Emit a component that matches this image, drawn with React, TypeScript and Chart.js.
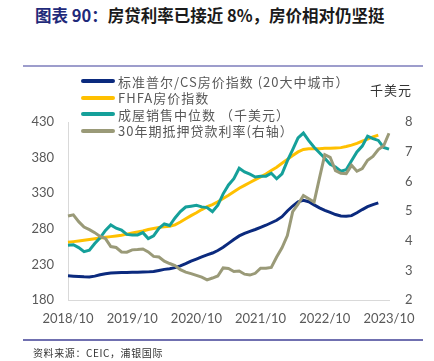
import React, { useEffect, useRef } from "react";
import { Chart, registerables } from "chart.js";

Chart.register(...registerables);

const labels: string[] = [];
for (let y = 2018; y <= 2023; y++) {
  for (let m = 1; m <= 12; m++) {
    if ((y === 2018 && m < 10) || (y === 2023 && m > 10)) continue;
    labels.push(`${y}/${m < 10 ? "0" + m : m}`);
  }
}

const tickLabels = ["2018/10", "2019/10", "2020/10", "2021/10", "2022/10", "2023/10"];

// S&P/Case-Shiller 20-city index (2018/10 - 2023/08)
const caseShiller = [
  213.9, 213.5, 213.0,
  212.5, 212.3, 213.5, 215.5, 217.0, 218.0, 218.3, 218.5, 218.6, 218.8, 219.0, 219.2,
  219.5, 220.0, 221.5, 223.0, 224.0, 225.5, 228.0, 231.0, 234.5, 237.5, 240.5, 243.5,
  246.0, 249.5, 254.0, 259.5, 265.0, 270.0, 273.5, 276.5, 279.0, 282.0, 285.0, 288.5,
  292.0, 297.0, 305.0, 312.0, 318.0, 320.0, 318.0, 313.5, 309.5, 306.0, 303.0, 300.0,
  298.0, 297.5, 298.5, 302.5, 307.0, 311.0, 314.0, 316.5,
];

// FHFA house price index (2018/10 - 2023/08)
const fhfa = [
  261, 262, 263,
  264, 265, 266, 267, 268, 269, 270, 271, 272.5, 274, 275.5, 277,
  279, 280.5, 282, 283, 283.5, 285.5, 289.5, 294, 298.5, 302.5, 307, 311,
  314, 318, 322.5, 327, 332, 337, 341, 345, 349, 353, 357, 362,
  366.5, 372, 377.5, 383, 388, 391.5, 392.5, 392.5, 392.5, 393, 393, 393.5,
  394, 395.5, 397.5, 400, 403, 406, 409, 411.5,
];

// Median existing home sales price, thousand USD (2018/10 - 2023/10)
const medianPrice = [
  257.0, 257.6, 253.6,
  248.0, 250.0, 259.4, 267.3, 277.7, 285.5, 280.8, 278.2, 272.1, 271.2, 271.4, 274.6,
  266.3, 270.1, 280.7, 286.8, 284.6, 295.3, 304.1, 310.6, 311.8, 313.0, 310.8, 309.8,
  303.9, 313.0, 329.1, 341.6, 350.3, 365.0, 359.9, 356.7, 352.8, 353.9, 353.9, 358.0,
  350.3, 357.3, 375.3, 391.2, 407.6, 414.5, 403.8, 394.5, 386.8, 379.1, 370.7, 366.9,
  361.0, 363.0, 375.7, 388.0, 396.1, 410.2, 406.7, 404.1, 394.3, 391.8,
];

// 30-year mortgage rate, % (right axis) (2018/10 - 2023/10)
const mortgageRate = [
  4.83, 4.87, 4.64,
  4.46, 4.37, 4.27, 4.14, 4.07, 3.80, 3.77, 3.62, 3.61, 3.69, 3.70, 3.72,
  3.62, 3.47, 3.45, 3.31, 3.23, 3.16, 3.02, 2.94, 2.89, 2.83, 2.77, 2.68,
  2.74, 2.81, 3.08, 3.06, 2.96, 2.98, 2.87, 2.84, 2.90, 3.07, 3.07, 3.10,
  3.45, 3.76, 4.17, 4.98, 5.23, 5.52, 5.41, 5.30, 6.11, 6.90, 6.81, 6.36,
  6.27, 6.26, 6.54, 6.34, 6.43, 6.71, 6.84, 7.07, 7.20, 7.62,
];

const seriesNames = [
  "标准普尔/CS房价指数 (20大中城市）",
  "FHFA房价指数",
  "成屋销售中位数 （千美元）",
  "30年期抵押贷款利率(右轴）",
];
const seriesColors = ["#0b2a7e", "#ffc000", "#15a09a", "#9a9a78"];

const leftTicks = [180, 230, 280, 330, 380, 430];
const rightTicks = [2, 3, 4, 5, 6, 7, 8];

const FONT = "Lato, 'Noto Sans CJK SC', sans-serif";
const CJK = "'Noto Sans CJK SC', 'Noto Sans', sans-serif";

export default function App() {
  const ref = useRef<HTMLCanvasElement | null>(null);

  useEffect(() => {
    if (!ref.current) return;
    const ds = (data: number[], i: number, axis: string) => ({
      label: seriesNames[i],
      data,
      borderColor: seriesColors[i],
      backgroundColor: seriesColors[i],
      borderWidth: 3,
      pointRadius: 0,
      tension: 0,
      yAxisID: axis,
      order: i === 3 ? 0 : 4 - i,
    });
    const chart = new Chart(ref.current, {
      type: "line",
      data: {
        labels,
        datasets: [
          ds(caseShiller, 0, "y"),
          ds(fhfa, 1, "y"),
          ds(medianPrice, 2, "y"),
          ds(mortgageRate, 3, "y1"),
        ],
      },
      options: {
        animation: false,
        responsive: false,
        maintainAspectRatio: false,
        layout: { padding: { top: 122, left: 0, right: 0, bottom: 0 } },
        plugins: { legend: { display: false }, tooltip: { enabled: false } },
        scales: {
          x: {
            type: "category",
            offset: false,
            afterFit: (a: any) => {
              a.height = 61;
            },
            grid: { display: false, drawTicks: false },
            border: { display: true, color: "#d9d9d9", width: 1 },
            ticks: {
              autoSkip: false,
              maxRotation: 0,
              minRotation: 0,
              padding: 11,
              color: "#595959",
              font: { family: FONT, size: 13 },
              callback: (_v: any, idx: number) =>
                tickLabels.includes(labels[idx]) ? labels[idx] : "",
            },
          },
          y: {
            position: "left",
            min: 180,
            max: 430,
            afterFit: (a: any) => {
              a.width = 68;
            },
            afterBuildTicks: (a: any) => {
              a.ticks = leftTicks.map((v) => ({ value: v }));
            },
            grid: { display: false, drawTicks: false },
            border: { display: true, color: "#d9d9d9", width: 1 },
            ticks: { padding: 14, color: "#595959", font: { family: FONT, size: 13 } },
          },
          y1: {
            position: "right",
            min: 2,
            max: 8,
            afterFit: (a: any) => {
              a.width = 45;
            },
            afterBuildTicks: (a: any) => {
              a.ticks = rightTicks.map((v) => ({ value: v }));
            },
            grid: { display: false, drawTicks: false },
            border: { display: false },
            ticks: { padding: 16, color: "#595959", font: { family: FONT, size: 13 } },
          },
        },
      },
    });
    return () => chart.destroy();
  }, []);

  return (
    <div
      style={{
        position: "fixed",
        left: 0,
        top: 0,
        width: 434,
        height: 361,
        background: "#fff",
        overflow: "hidden",
      }}
    >
      <div
        style={{
          position: "absolute",
          left: 35,
          top: 3,
          fontFamily: CJK,
          fontWeight: 700,
          fontSize: 16.5,
          letterSpacing: 0,
          whiteSpace: "nowrap",
          color: "#1a1a1a",
        }}
      >
        <span style={{ color: "#1f2a7a" }}>图表 90：</span>房贷利率已接近 8%，房价相对仍坚挺
      </div>
      <div
        style={{
          position: "absolute",
          left: 23,
          top: 65,
          width: 400,
          height: 2,
          background: "#9d9dcc",
        }}
      />
      <canvas ref={ref} width={434} height={361} style={{ position: "absolute", left: 0, top: 0 }} />
      <div style={{ position: "absolute", left: 81, top: 73, fontFamily: CJK, fontSize: 13, color: "#595959" }}>
        {seriesNames.map((n, i) => (
          <div key={n} style={{ display: "flex", alignItems: "center", height: 16.5, whiteSpace: "nowrap" }}>
            <span
              style={{
                display: "inline-block",
                width: 34,
                height: 4,
                borderRadius: 2,
                background: seriesColors[i],
                marginRight: 3,
              }}
            />
            <span style={{ letterSpacing: 1 }}>{n}</span>
          </div>
        ))}
      </div>
      <div
        style={{
          position: "absolute",
          left: 370,
          top: 80,
          fontFamily: CJK,
          fontSize: 13,
          color: "#333",
          letterSpacing: 1,
          whiteSpace: "nowrap",
        }}
      >
        千美元
      </div>
      <div
        style={{
          position: "absolute",
          left: 23,
          top: 339,
          width: 400,
          height: 2,
          background: "#7070b0",
        }}
      />
      <div
        style={{
          position: "absolute",
          left: 33,
          top: 345,
          fontFamily: CJK,
          fontSize: 10,
          color: "#333",
          letterSpacing: 0.6,
          whiteSpace: "nowrap",
        }}
      >
        资料来源：CEIC，浦银国际
      </div>
    </div>
  );
}
